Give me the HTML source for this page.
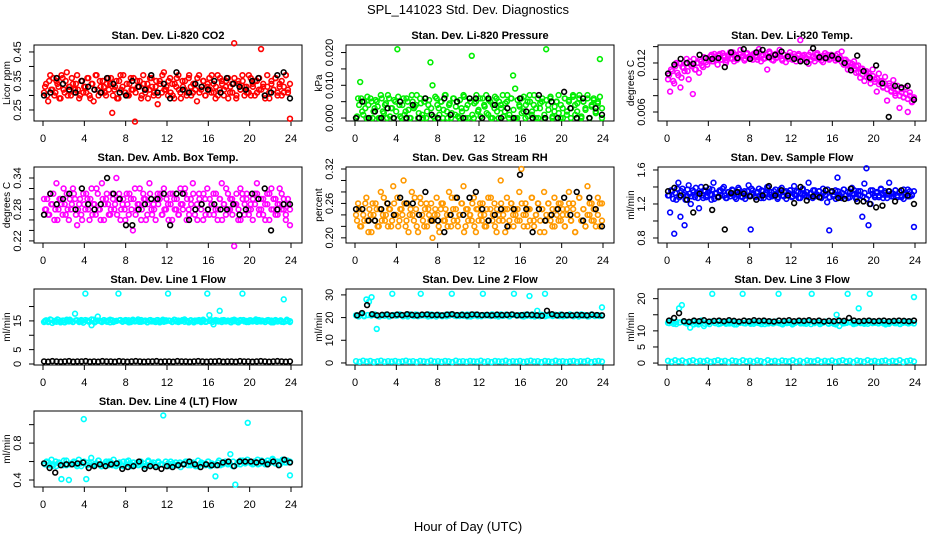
<!DOCTYPE html>
<html><head><meta charset="utf-8"><style>
html,body{margin:0;padding:0;background:#fff;}
svg{display:block;font-family:"Liberation Sans",sans-serif;}
</style></head><body>
<svg id="chart" width="936" height="540" viewBox="0 0 936 540">
<text x="468" y="14" text-anchor="middle" font-size="13">SPL_141023  Std. Dev. Diagnostics</text>
<text x="468" y="531" text-anchor="middle" font-size="13">Hour of Day (UTC)</text>
</svg>
<script>
const hourTicks=[0,4,8,12,16,20,24];
const co2Main=[.31,.34,.28,.37,.32,.30,.35,.33,.29,.36,.31,.38,.33,.30,.34,.32,.37,.29,.35,.31,.33,.36,.30,.34,.28,.37,.32,.35,.31,.33,.30,.36,.34,.24,.32,.35,.29,.37,.33,.31,.34,.30,.36,.32,.21,.35,.33,.29,.37,.31,.34,.32,.36,.30,.33,.27,.35,.31,.38,.32,.30,.36,.34,.29,.33,.37,.31,.35,.32,.30,.36,.33,.31,.34,.28,.37,.32,.35,.30,.33,.36,.31,.34,.29,.37,.32,.35,.30,.33,.36,.31,.34,.48,.29,.35,.32,.37,.30,.33,.31,.36,.34,.30,.35,.32,.46,.33,.29,.37,.31,.34,.32,.36,.30,.33,.35,.31,.37,.32,.22];
const co2B=[.33,.30,.35,.32,.36,.31,.34,.29,.37,.32,.35,.30,.33,.36,.31,.34,.32,.30,.35,.33,.31,.36,.29,.34,.32,.37,.30,.33,.35,.31,.34,.32,.36,.30,.33,.29,.35,.32,.37,.31,.30,.34,.32,.36,.31,.33,.35,.30,.34,.32,.29,.36,.33,.31,.35,.30,.34,.37,.32,.33,.35,.31,.30,.34,.36,.32,.29,.33,.35,.31,.37,.30,.34,.32,.36,.31,.33,.35,.30,.34,.32,.37,.31,.33,.30,.36,.34,.32,.35,.29,.33,.31,.36,.30,.34,.32,.35,.33,.31,.37,.30,.33,.35,.31,.36,.32,.34,.30,.33,.29,.35,.32,.36,.31,.34,.30,.33,.37,.31,.34];
const co2Black=[.30,.31,.36,.34,.32,.31,.35,.33,.32,.31,.36,.34,.31,.30,.35,.33,.32,.37,.31,.34,.29,.38,.32,.31,.34,.33,.32,.35,.31,.36,.34,.33,.32,.35,.36,.30,.31,.37,.38,.29];
const presMain=[0,.006,.011,.002,.005,0,.004,.006,0,.003,.005,0,.007,.002,.004,0,.006,.003,0,.005,.021,.004,0,.006,.002,.005,0,.007,.003,.004,0,.006,.001,.005,0,.004,.017,.010,0,.006,.003,.005,0,.007,.002,.004,0,.006,.001,.005,0,.003,.007,0,.004,.006,.019,0,.005,.002,.006,0,.004,.007,.001,.005,0,.003,.006,0,.004,.007,.002,.005,0,.006,.013,.009,0,.004,.006,.002,0,.005,.007,.001,.004,0,.006,.003,.005,0,.021,.004,.006,0,.002,.005,.007,0,.003,.006,.001,.005,0,.007,.004,.002,.006,0,.005,.003,.007,0,.004,.006,.002,.005,.018,0];
const presB=[.0005,.004,.006,.001,.003,.0065,0,.005,.002,.0055,.0035,0,.006,.0015,.0045,.007,.0005,.003,.0055,.002,.0065,.0005,.004,.001,.006,.0025,0,.005,.0035,.007,.0015,.0045,0,.006,.002,.0055,.003,.0005,.0065,.004,.001,.005,.0025,.007,0,.0045,.0015,.006,.0035,.0005,.0055,.002,.0065,.003,0,.005,.001,.0045,.007,.0025,.0005,.006,.0035,.0015,.0055,0,.004,.0065,.002,.005,.003,.0005,.0045,.007,.001,.006,.0025,0,.0055,.0035,.0015,.0065,.004,.0005,.005,.002,.007,.003,0,.0045,.006,.001,.0055,.0025,.0065,.0005,.0035,.005,.0015,.004,0,.006,.002,.0055,.003,.0065,.001,.0045,.007,.0005,.005,.0025,.006,0,.0035,.0055,.0015,.0045,.0065,.003];
const presBlack=[0,.005,0,.002,0,.003,0,.005,0,.004,0,.006,.001,0,.006,.001,.005,0,.006,.006,0,.006,.004,0,.003,0,.006,.002,0,.007,0,.005,0,.008,.003,0,.006,0,.003,.001];
const tempMain=[.0100,.0085,.0110,.0095,.0120,.0105,.0090,.0115,.0110,.0125,.0100,.0118,.0082,.0112,.0120,.0108,.0122,.0115,.0126,.0118,.0125,.0130,.0122,.0128,.0118,.0131,.0124,.0129,.0120,.0127,.0133,.0125,.0122,.0130,.0126,.0136,.0128,.0123,.0131,.0127,.0129,.0124,.0132,.0127,.0137,.0122,.0130,.0126,.0112,.0134,.0128,.0123,.0131,.0127,.0136,.0125,.0130,.0121,.0128,.0133,.0127,.0131,.0122,.0129,.0148,.0124,.0130,.0126,.0119,.0133,.0127,.0122,.0130,.0125,.0128,.0121,.0132,.0126,.0124,.0130,.0128,.0123,.0131,.0127,.0134,.0118,.0124,.0112,.0120,.0115,.0122,.0108,.0117,.0102,.0113,.0098,.0110,.0104,.0095,.0112,.0100,.0085,.0107,.0096,.0090,.0103,.0074,.0095,.0086,.0099,.0080,.0092,.0065,.0088,.0078,.0090,.0060,.0084,.0072,.0076];
const tempB=[.0105,.0112,.0098,.0116,.0108,.0120,.0102,.0114,.0119,.0110,.0122,.0116,.0125,.0112,.0120,.0124,.0117,.0127,.0121,.0125,.0128,.0122,.0131,.0126,.0129,.0124,.0132,.0127,.0123,.0130,.0126,.0133,.0128,.0124,.0131,.0127,.0129,.0125,.0132,.0128,.0126,.0131,.0128,.0124,.0133,.0129,.0125,.0130,.0127,.0132,.0124,.0129,.0126,.0131,.0128,.0123,.0130,.0127,.0125,.0129,.0124,.0128,.0126,.0131,.0123,.0129,.0127,.0125,.0130,.0124,.0128,.0126,.0132,.0127,.0123,.0129,.0126,.0130,.0125,.0128,.0126,.0129,.0124,.0127,.0121,.0124,.0118,.0121,.0115,.0119,.0112,.0116,.0109,.0113,.0106,.0110,.0103,.0107,.0100,.0104,.0097,.0101,.0094,.0098,.0091,.0095,.0088,.0092,.0085,.0089,.0083,.0087,.0080,.0084,.0078,.0082,.0076,.0080,.0073,.0078];
const tempBlack=[.0107,.0118,.0125,.0120,.0119,.0130,.0126,.0125,.0126,.0115,.0133,.0126,.0137,.0125,.0133,.0136,.0127,.0130,.0134,.0128,.0125,.0122,.0121,.0138,.0127,.0126,.0129,.0125,.0120,.0111,.0129,.0110,.0102,.0117,.0095,.0054,.0092,.0090,.0092,.0075];
const ambMain=[.30,.28,.27,.31,.29,.26,.33,.28,.30,.27,.29,.31,.26,.28,.32,.30,.25,.29,.27,.31,.28,.30,.26,.32,.29,.27,.31,.28,.33,.26,.30,.29,.27,.31,.28,.34,.30,.26,.29,.28,.31,.27,.30,.24,.32,.28,.29,.26,.31,.30,.27,.33,.28,.29,.26,.31,.30,.27,.32,.28,.29,.31,.26,.30,.28,.27,.32,.29,.31,.26,.28,.30,.33,.27,.29,.31,.28,.26,.30,.32,.27,.29,.31,.28,.26,.30,.33,.29,.27,.31,.28,.30,.21,.29,.26,.32,.31,.27,.30,.28,.29,.26,.31,.33,.28,.30,.27,.29,.31,.26,.32,.28,.30,.27,.29,.31,.28,.26,.30,.25];
const ambB=[.28,.30,.27,.29,.31,.28,.26,.30,.29,.32,.27,.28,.30,.29,.31,.27,.28,.30,.26,.29,.31,.28,.30,.27,.29,.32,.28,.26,.30,.29,.31,.27,.28,.30,.29,.27,.31,.28,.30,.26,.29,.31,.28,.30,.27,.29,.32,.28,.30,.26,.29,.31,.27,.28,.30,.29,.31,.27,.28,.30,.26,.29,.31,.28,.30,.27,.29,.28,.32,.30,.27,.29,.31,.28,.26,.30,.29,.31,.27,.28,.30,.29,.27,.31,.28,.30,.26,.29,.32,.28,.30,.27,.29,.31,.28,.26,.30,.29,.31,.27,.28,.30,.29,.31,.27,.28,.30,.26,.29,.31,.28,.30,.27,.29,.32,.28,.30,.27,.29,.28];
const ambBlack=[.27,.31,.29,.30,.31,.28,.32,.29,.28,.29,.34,.31,.30,.25,.25,.28,.29,.30,.30,.31,.25,.31,.31,.26,.28,.29,.28,.29,.28,.28,.29,.27,.28,.31,.30,.32,.24,.28,.29,.29];
const rhMain=[.24,.26,.22,.25,.23,.27,.21,.24,.26,.23,.25,.22,.28,.24,.23,.26,.25,.22,.29,.24,.27,.23,.25,.30,.22,.26,.24,.28,.23,.25,.21,.27,.24,.22,.26,.25,.23,.20,.24,.27,.22,.25,.26,.23,.24,.28,.22,.25,.27,.23,.24,.26,.29,.22,.25,.24,.23,.27,.21,.25,.26,.23,.24,.22,.27,.25,.23,.26,.21,.24,.30,.23,.25,.27,.22,.26,.24,.25,.23,.28,.32,.24,.26,.22,.25,.27,.23,.24,.26,.21,.25,.28,.23,.26,.24,.22,.27,.25,.23,.26,.24,.22,.25,.28,.23,.26,.21,.24,.27,.23,.25,.22,.29,.24,.26,.23,.25,.27,.22,.26];
const rhB=[.23,.25,.22,.24,.26,.23,.25,.21,.24,.26,.22,.25,.23,.27,.24,.22,.25,.23,.26,.24,.22,.25,.24,.26,.23,.21,.25,.24,.27,.22,.24,.26,.23,.25,.22,.24,.26,.23,.25,.24,.21,.26,.23,.25,.22,.24,.27,.23,.25,.22,.24,.26,.21,.25,.23,.24,.26,.22,.25,.23,.24,.26,.22,.25,.23,.27,.24,.22,.25,.23,.26,.24,.21,.25,.23,.26,.22,.24,.25,.23,.26,.22,.24,.25,.23,.27,.22,.24,.26,.23,.25,.21,.24,.26,.23,.25,.22,.24,.26,.23,.25,.22,.24,.26,.23,.25,.21,.24,.27,.23,.25,.22,.24,.26,.23,.25,.22,.24,.26,.23];
const rhBlack=[.25,.25,.23,.23,.25,.26,.24,.27,.26,.26,.24,.28,.23,.23,.21,.24,.27,.24,.27,.28,.25,.23,.24,.25,.22,.25,.31,.25,.21,.25,.23,.24,.25,.27,.24,.28,.23,.27,.25,.22];
const flowMain=[1.30,1.10,1.35,0.85,1.25,1.45,1.05,1.38,0.95,1.30,1.42,1.20,1.36,1.28,1.33,1.15,1.40,1.27,1.35,1.30,1.38,1.25,1.45,1.32,1.28,1.36,1.30,1.40,1.27,1.34,1.29,1.37,1.31,1.26,1.39,1.33,1.28,1.35,1.30,1.42,0.90,1.36,1.29,1.33,1.38,1.27,1.35,1.31,1.40,1.28,1.34,1.30,1.37,1.26,1.33,1.39,1.29,1.35,1.31,1.36,1.28,1.41,1.30,1.34,1.27,1.37,1.32,1.29,1.45,1.33,1.27,1.36,1.30,1.35,1.28,1.38,1.31,1.22,0.89,1.34,1.29,1.36,1.51,1.31,1.27,1.37,1.30,1.34,1.28,1.39,1.32,1.26,1.35,1.30,1.05,1.44,1.62,0.95,1.20,1.36,1.30,1.33,1.28,1.38,1.31,1.35,1.27,1.45,1.32,1.29,1.36,1.30,1.34,1.28,1.37,1.31,1.29,1.35,1.30,0.93];
const flowB=[1.30,1.36,1.26,1.33,1.38,1.28,1.35,1.31,1.25,1.37,1.32,1.29,1.34,1.39,1.27,1.33,1.30,1.36,1.28,1.34,1.31,1.37,1.26,1.33,1.29,1.35,1.38,1.30,1.27,1.34,1.32,1.36,1.28,1.31,1.37,1.29,1.33,1.26,1.35,1.30,1.38,1.32,1.28,1.34,1.30,1.36,1.27,1.33,1.39,1.31,1.29,1.35,1.32,1.28,1.37,1.30,1.34,1.26,1.33,1.36,1.29,1.31,1.35,1.27,1.33,1.38,1.30,1.34,1.28,1.32,1.36,1.29,1.31,1.35,1.27,1.33,1.30,1.37,1.28,1.34,1.31,1.26,1.35,1.29,1.33,1.37,1.30,1.27,1.34,1.32,1.36,1.28,1.31,1.35,1.29,1.33,1.26,1.30,1.36,1.32,1.28,1.34,1.30,1.37,1.27,1.33,1.31,1.35,1.29,1.32,1.36,1.28,1.34,1.30,1.26,1.33,1.37,1.29,1.31,1.35];
const flowBlack=[1.35,1.39,1.30,1.25,1.10,1.32,1.40,1.13,1.28,0.90,1.33,1.34,1.32,1.29,1.25,1.30,1.41,1.30,1.36,1.30,1.21,1.40,1.24,1.29,1.28,1.36,1.35,1.27,1.26,1.38,1.23,1.23,1.20,1.16,1.18,1.35,1.23,1.36,1.30,1.20];
const l1Main=[14.6,15.2,14.8,15.5,14.3,15.0,14.7,15.3,14.9,15.1,14.5,15.4,14.8,15.0,14.6,17.5,15.2,14.9,15.3,14.4,24.5,15.1,14.7,13.5,15.4,14.8,16.5,15.0,14.6,15.3,14.9,15.1,14.5,15.2,14.8,15.0,24.5,15.3,14.7,15.1,14.9,15.2,14.6,15.4,14.8,15.0,14.7,15.3,14.9,15.1,14.5,15.2,14.8,15.0,14.6,15.3,14.9,15.1,14.7,15.2,24.5,15.0,14.6,15.4,14.8,15.1,14.9,15.3,14.7,15.0,14.5,15.2,14.8,15.1,14.9,15.3,14.6,15.0,14.7,24.5,17.0,15.2,13.8,14.9,15.1,18.5,14.6,15.3,14.8,15.0,14.7,15.2,14.9,15.1,14.5,15.3,24.5,14.8,15.0,14.6,15.2,14.9,15.1,14.7,15.3,14.8,15.0,14.6,15.2,14.9,15.1,14.5,15.3,14.8,15.0,14.7,22.5,14.9,15.1,14.6];
const l1B=[15.0,14.6,15.3,14.8,15.5,14.5,15.1,14.9,15.4,14.7,15.2,14.6,15.0,15.3,14.8,15.5,14.5,15.1,14.9,15.2,14.7,15.4,14.6,15.0,15.2,14.8,15.3,14.5,15.1,14.9,15.5,14.7,15.0,14.6,15.3,14.8,15.2,14.5,15.4,14.9,15.1,14.7,15.3,14.6,15.0,15.5,14.8,15.2,14.5,15.1,14.9,15.4,14.7,15.0,14.6,15.3,14.8,15.2,14.9,15.1,14.5,15.4,14.7,15.0,15.3,14.6,15.2,14.8,15.5,14.9,15.1,14.7,15.3,14.5,15.0,14.8,15.2,14.6,15.4,14.9];
const l1Black=[0.9,0.8,1.0,0.9,0.8,0.9,1.0,0.8,0.9,0.9,1.0,0.8,0.9,0.8,1.0,0.9,0.9,0.8,1.0,0.9,0.8,0.9,1.0,0.9,0.8,0.9,0.9,1.0,0.8,0.9,0.9,0.8,1.0,0.9,0.9,0.8,0.9,1.0,0.9,0.8,0.9,0.9,1.0,0.8,0.9,0.9,0.8,1.0,0.9,0.9,0.8,0.9,1.0,0.9,0.8,0.9,1.0,0.9,0.8,0.9];
const l2Main=[21.0,20.5,21.5,20.8,28.0,27.0,29.0,21.2,15.0,20.5,21.0,20.8,21.3,20.6,30.5,21.1,20.9,21.4,20.7,21.0,20.5,21.2,20.8,21.3,20.6,30.5,21.0,20.9,21.4,20.7,21.1,20.5,21.2,20.8,21.0,20.6,21.3,30.5,20.9,21.1,20.7,21.4,21.0,20.5,21.2,20.8,21.3,20.6,21.0,30.5,20.9,21.1,20.7,21.2,21.0,20.5,21.4,20.8,21.1,20.6,21.3,30.5,20.9,21.0,20.7,21.2,20.8,29.5,21.4,20.5,23.0,20.6,21.1,30.5,20.9,21.0,20.7,21.2,20.8,21.3,20.6,21.0,20.9,21.1,20.7,21.2,20.5,21.4,20.8,21.0,20.6,21.3,20.9,21.1,20.7,24.5];
const l2B=[20.8,21.3,20.6,21.1,20.9,21.4,20.7,21.0,21.2,20.5,21.1,20.8,21.3,20.6,21.0,21.4,20.7,21.2,20.9,21.1,20.5,21.3,20.8,21.0,20.6,21.2,20.9,21.4,20.7,21.1,20.8,21.3,20.5,21.0,21.2,20.6,21.1,20.9,21.4,20.7,21.0,20.8,21.3,20.6,21.2,20.9,21.1,20.5,21.4,20.7,21.0,20.8,21.2,20.6,21.3,20.9,21.1,20.7,21.0,20.8,21.4,20.6,21.2,20.9,21.1,20.5,21.3,20.7,21.0,20.8];
const l2Low=[0.8,0.5,1.0,0.6,0.9,0.4,0.7,1.0,0.5,0.8,0.6,0.9,0.5,0.7,1.0,0.6,0.8,0.4,0.9,0.7,0.5,1.0,0.6,0.8,0.5,0.9,0.7,0.4,1.0,0.6,0.8,0.5,0.9,0.7,0.6,1.0,0.5,0.8,0.4,0.9,0.7,0.6,1.0,0.5,0.8,0.6,0.9,0.5,0.7,1.0,0.6,0.8,0.4,0.9,0.7,0.5,1.0,0.6,0.8,0.5,0.7,0.9,0.5,0.8,0.6,1.0,0.4,0.7,0.9,0.6];
const l2Black=[21.0,22.0,25.5,21.5,21.0,21.2,21.4,21.0,21.3,21.1,21.5,21.2,21.0,21.3,21.4,21.1,21.2,21.0,21.3,21.5,21.1,21.2,21.0,21.4,21.3,21.1,21.2,21.0,21.3,21.1,21.2,21.4,21.0,21.1,21.3,21.2,21.0,20.8,23.0,21.5,21.0,21.2,21.1,21.0,21.2,21.1,21.0,21.3,21.1,21.0];
const l3Main=[12.5,13.0,12.2,12.8,17.0,18.0,12.6,12.3,11.0,12.9,12.4,12.0,13.2,11.5,12.7,12.1,21.5,12.5,12.9,12.3,12.6,12.2,12.8,12.4,12.0,12.7,12.5,21.5,12.3,12.9,12.6,12.2,12.8,12.4,12.7,12.1,12.5,12.9,12.3,12.6,21.5,12.2,12.8,12.4,12.7,12.0,12.5,12.9,12.3,12.6,12.2,12.8,21.5,12.4,12.7,12.1,12.5,12.9,12.3,12.6,12.2,15.0,11.5,12.8,12.4,21.5,12.7,12.5,12.3,17.0,12.6,12.2,12.8,21.5,12.4,12.7,12.5,12.9,12.3,12.6,12.2,12.8,12.4,12.7,12.1,12.5,12.9,12.3,12.6,20.5];
const l3B=[12.4,12.8,12.1,12.6,12.9,12.3,12.7,12.0,12.5,12.8,12.2,12.6,12.9,12.4,12.1,12.7,12.5,12.3,12.8,12.0,12.6,12.4,12.9,12.2,12.7,12.5,12.1,12.8,12.3,12.6,12.9,12.4,12.0,12.7,12.5,12.2,12.8,12.6,12.3,12.9,12.1,12.5,12.7,12.4,12.8,12.2,12.6,12.0,12.9,12.3,12.5,12.7,12.1,12.8,12.4,12.6,12.2,12.9,12.5,12.3,12.7,12.0,12.6,12.8,12.4,12.2,12.7,12.5,12.9,12.3];
const l3Low=[0.7,0.4,0.9,0.5,0.8,0.3,0.6,0.9,0.4,0.7,0.5,0.8,0.4,0.6,0.9,0.5,0.7,0.3,0.8,0.6,0.4,0.9,0.5,0.7,0.4,0.8,0.6,0.3,0.9,0.5,0.7,0.4,0.8,0.6,0.5,0.9,0.4,0.7,0.3,0.8,0.6,0.5,0.9,0.4,0.7,0.5,0.8,0.4,0.6,0.9,0.5,0.7,0.3,0.8,0.6,0.4,0.9,0.5,0.7,0.4,0.6,0.8,0.4,0.7,0.5,0.9,0.3,0.6,0.8,0.5];
const l3Black=[13.2,14.0,15.5,13.0,12.8,13.2,13.0,13.3,12.9,13.1,13.2,13.0,13.3,13.1,12.9,13.2,13.0,13.3,13.1,13.2,13.0,12.9,13.2,13.1,13.3,13.0,13.2,13.1,13.3,13.0,13.2,12.9,13.1,13.0,13.2,13.1,14.0,13.2,13.0,13.1,13.2,13.0,13.1,13.2,13.0,13.1,13.2,13.1,13.0,13.2];
const l4Main=[0.58,0.60,0.56,0.62,0.57,0.55,0.59,0.41,0.61,0.56,0.40,0.58,0.60,0.57,0.62,0.55,1.06,0.41,0.59,0.64,0.56,0.58,0.61,0.55,0.57,0.60,0.56,0.59,0.62,0.55,0.58,0.56,0.60,0.57,0.61,0.55,0.59,0.57,0.56,0.60,0.58,0.55,0.61,0.57,0.59,0.56,0.60,0.57,1.10,0.55,0.58,0.60,0.56,0.59,0.57,0.54,0.58,0.60,0.56,0.57,0.59,0.55,0.61,0.57,0.58,0.56,0.60,0.55,0.57,0.44,0.59,0.56,0.58,0.60,0.57,0.68,0.55,0.35,0.59,0.57,0.61,0.58,1.02,0.60,0.57,0.59,0.62,0.58,0.60,0.57,0.61,0.59,0.63,0.58,0.60,0.57,0.62,0.59,0.61,0.45];
const l4B=[0.57,0.59,0.55,0.60,0.58,0.56,0.61,0.57,0.59,0.55,0.58,0.60,0.56,0.59,0.57,0.61,0.55,0.58,0.60,0.56,0.57,0.59,0.55,0.60,0.58,0.56,0.59,0.57,0.55,0.60,0.58,0.56,0.59,0.57,0.60,0.55,0.58,0.56,0.59,0.57,0.60,0.56,0.58,0.55,0.59,0.57,0.60,0.58,0.56,0.61,0.57,0.59,0.58,0.60,0.57,0.61,0.59,0.62,0.58,0.60,0.57,0.61,0.59,0.58,0.62,0.60,0.57,0.61,0.59,0.60];
const l4Black=[0.58,0.53,0.48,0.56,0.57,0.57,0.58,0.59,0.53,0.55,0.57,0.55,0.57,0.58,0.52,0.54,0.55,0.60,0.52,0.55,0.54,0.52,0.55,0.54,0.56,0.57,0.60,0.57,0.54,0.57,0.56,0.56,0.59,0.60,0.55,0.60,0.60,0.60,0.59,0.60,0.57,0.60,0.56,0.62,0.59];

const NS='http://www.w3.org/2000/svg';
const svg=document.getElementById('chart');
function mk(tag,attrs,parent){const e=document.createElementNS(NS,tag);for(const k in attrs)e.setAttribute(k,attrs[k]);(parent||svg).appendChild(e);return e;}

const panels=[
 {t:'Stan. Dev. Li-820 CO2',yl:'Licor ppm',c:0,r:0,ymin:.212,ymax:.474,ticks:[.25,.30,.35,.40,.45],labs:['0.25','','0.35','','0.45'],series:[[co2Main,'#ff0000'],[co2B,'#ff0000'],[co2Black,'#000']]},
 {t:'Stan. Dev. Li-820 Pressure',yl:'kPa',c:1,r:0,ymin:-.0009,ymax:.0223,ticks:[0,.005,.010,.015,.020],labs:['0.000','','0.010','','0.020'],series:[[presMain,'#00ee00'],[presB,'#00ee00'],[presBlack,'#000']]},
 {t:'Stan. Dev. Li-820 Temp.',yl:'degrees C',c:2,r:0,ymin:.0049,ymax:.0142,ticks:[.006,.008,.010,.012,.014],labs:['0.006','','','0.012',''],series:[[tempMain,'#ff00ff'],[tempB,'#ff00ff'],[tempBlack,'#000']]},
 {t:'Stan. Dev. Amb. Box Temp.',yl:'degrees C',c:0,r:1,ymin:.216,ymax:.361,ticks:[.22,.24,.26,.28,.30,.32,.34],labs:['0.22','','','0.28','','','0.34'],series:[[ambMain,'#ff00ff'],[ambB,'#ff00ff'],[ambBlack,'#000']]},
 {t:'Stan. Dev. Gas Stream RH',yl:'percent',c:1,r:1,ymin:.191,ymax:.3235,ticks:[.20,.22,.24,.26,.28,.30,.32],labs:['0.20','','','0.26','','','0.32'],series:[[rhMain,'#ff9900'],[rhB,'#ff9900'],[rhBlack,'#000']]},
 {t:'Stan. Dev. Sample Flow',yl:'ml/min',c:2,r:1,ymin:.741,ymax:1.635,ticks:[.8,1.0,1.2,1.4,1.6],labs:['0.8','','1.2','','1.6'],series:[[flowMain,'#0000ff'],[flowB,'#0000ff'],[flowBlack,'#000']]},
 {t:'Stan. Dev. Line 1 Flow',yl:'ml/min',c:0,r:2,ymin:-.35,ymax:26.1,ticks:[0,5,10,15,20],labs:['0','5','','15',''],series:[[l1Main,'#00ffff'],[l1B,'#00ffff'],[l1Black,'#000']]},
 {t:'Stan. Dev. Line 2 Flow',yl:'ml/min',c:1,r:2,ymin:-.9,ymax:32.6,ticks:[0,10,20,30],labs:['0','10','20','30'],series:[[l2Main,'#00ffff'],[l2B,'#00ffff'],[l2Low,'#00ffff'],[l2Black,'#000']]},
 {t:'Stan. Dev. Line 3 Flow',yl:'ml/min',c:2,r:2,ymin:-.6,ymax:23,ticks:[0,5,10,15,20],labs:['0','5','10','','20'],series:[[l3Main,'#00ffff'],[l3B,'#00ffff'],[l3Low,'#00ffff'],[l3Black,'#000']]},
 {t:'Stan. Dev. Line 4 (LT) Flow',yl:'ml/min',c:0,r:3,ymin:.324,ymax:1.148,ticks:[.4,.6,.8,1.0],labs:['0.4','','0.8',''],series:[[l4Main,'#00ffff'],[l4B,'#00ffff'],[l4Black,'#000']]}
];
const colLeft=[34,346,658];
panels.forEach((p,pi)=>{
 const L=colLeft[p.c],T=45+p.r*122,W=268,H=76,B=T+H;
 const g=mk('g',{});
 
 
 const xs=h=>L+9+h/24*248;
 const ys=v=>B-(v-p.ymin)/(p.ymax-p.ymin)*H;
 const tt=mk('text',{x:L+W/2,y:T-6,'text-anchor':'middle','font-size':11,'font-weight':'bold'},g);tt.textContent=p.t;
 
 
 const fr=mk('rect',{x:L,y:T,width:W,height:H,fill:'none',stroke:'#000','stroke-width':1},g);
 
 
 hourTicks.forEach(h=>{
  mk('line',{x1:xs(h),x2:xs(h),y1:B,y2:B+5,stroke:'#000'},g);
  const tx=mk('text',{x:xs(h),y:B+21,'text-anchor':'middle','font-size':11},g);tx.textContent=h;
  
  
 });
 p.ticks.forEach((v,i)=>{
  const y=ys(v);
  mk('line',{x1:L-5,x2:L,y1:y,y2:y,stroke:'#000'},g);
  if(p.labs[i]){const tx=mk('text',{x:L-13,y:y,'text-anchor':'middle','font-size':11,transform:`rotate(-90 ${L-13} ${y})`},g);tx.textContent=p.labs[i];
  
  }
 });
 const yl=mk('text',{x:L-24,y:T+H/2,'text-anchor':'middle','font-size':10,transform:`rotate(-90 ${L-24} ${T+H/2})`},g);yl.textContent=p.yl;
 
 
 p.series.forEach(([vals,col],si)=>{
  const n=vals.length;
  const off=(si%2)*0.1;
  vals.forEach((v,i)=>{
   const h=0.1+off+i*((23.8-off)/(n-1));
   const c=mk('circle',{cx:xs(h),cy:ys(v),r:2.4,fill:'none',stroke:col,'stroke-width':1.6},g);
   
   
  });
 });
});
</script>
</body></html>
